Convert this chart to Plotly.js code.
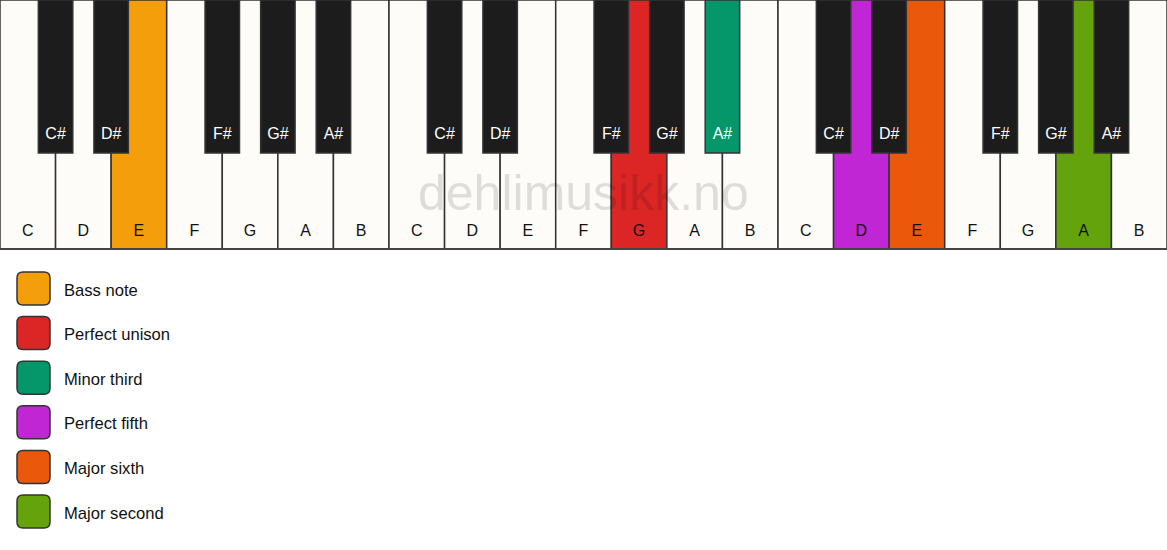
<!DOCTYPE html>
<html>
<head>
<meta charset="utf-8">
<script src="https://cdn.plot.ly/plotly-3.0.1.min.js"></script>
<style>
  html, body { margin: 0; padding: 0; background: #ffffff; }
  #chart { width: 1167px; height: 550px; }
</style>
</head>
<body>
<div id="chart"></div>
<script>
  // keyboard layout
  const octaves = 3;
  const whiteNames = ['C', 'D', 'E', 'F', 'G', 'A', 'B'];
  const blackNames = ['C#', 'D#', 'F#', 'G#', 'A#'];
  const blackAfter = [0, 1, 3, 4, 5]; // black key sits on right edge of this white key

  // highlighted notes (legend order)
  const intervalNames = ['Bass note', 'Perfect unison', 'Minor third', 'Perfect fifth', 'Major sixth', 'Major second'];
  const intervalNotes = ['E', 'G', 'A#', 'D', 'E', 'A'];
  const intervalOctave = [0, 1, 1, 2, 2, 2];
  const intervalColors = ['#F59E0B', '#DC2626', '#059669', '#C026D3', '#EA580C', '#65A30D'];

  const WHITE = '#FDFCF9';
  const BLACK = '#1C1C1C';
  const EDGE = '#333333';

  const keyW = 1167 / (octaves * 7); // px per white key
  const whiteLen = 249;
  const blackLen = 153;

  function colorFor(note, oct, base) {
    for (let i = 0; i < intervalNotes.length; i++) {
      if (intervalNotes[i] === note && intervalOctave[i] === oct) return intervalColors[i];
    }
    return base;
  }

  let wx = [], wy = [], wc = [], wt = [];
  let bx = [], by = [], bc = [], bt = [];
  for (let o = 0; o < octaves; o++) {
    for (let i = 0; i < whiteNames.length; i++) {
      wx.push(o * 7 + i + 0.5);
      wy.push(whiteLen);
      wc.push(colorFor(whiteNames[i], o, WHITE));
      wt.push(whiteNames[i]);
    }
    for (let i = 0; i < blackNames.length; i++) {
      bx.push(o * 7 + blackAfter[i] + 1);
      by.push(blackLen);
      bc.push(colorFor(blackNames[i], o, BLACK));
      bt.push(blackNames[i]);
    }
  }

  const whiteKeys = {
    type: 'bar', x: wx, y: wy, base: 0, width: 1,
    marker: { color: wc, line: { color: EDGE, width: 1.5 } },
    hoverinfo: 'skip', showlegend: false
  };
  const blackKeys = {
    type: 'bar', x: bx, y: by, base: 0, width: 0.62,
    marker: { color: bc, line: { color: EDGE, width: 1.5 } },
    hoverinfo: 'skip', showlegend: false
  };
  const whiteLabels = {
    type: 'scatter', mode: 'text', x: wx, y: wx.map(() => 232), text: wt,
    textfont: { family: 'Liberation Sans, Arial, sans-serif', size: 16, color: '#111' },
    hoverinfo: 'skip', showlegend: false, cliponaxis: false
  };
  const blackLabels = {
    type: 'scatter', mode: 'text', x: bx, y: bx.map(() => 135), text: bt,
    textfont: { family: 'Liberation Sans, Arial, sans-serif', size: 16, color: '#ffffff' },
    hoverinfo: 'skip', showlegend: false, cliponaxis: false
  };

  // legend swatches: rounded squares
  const px = v => v / keyW;
  let shapes = [];
  let annotations = [];
  const r = 6, sw = 33;
  for (let i = 0; i < intervalNames.length; i++) {
    const x0 = 17, y0 = 272 + i * 44.6, x1 = x0 + sw, y1 = y0 + sw;
    const path = 'M' + px(x0 + r) + ',' + y0 +
      ' L' + px(x1 - r) + ',' + y0 + ' Q' + px(x1) + ',' + y0 + ' ' + px(x1) + ',' + (y0 + r) +
      ' L' + px(x1) + ',' + (y1 - r) + ' Q' + px(x1) + ',' + y1 + ' ' + px(x1 - r) + ',' + y1 +
      ' L' + px(x0 + r) + ',' + y1 + ' Q' + px(x0) + ',' + y1 + ' ' + px(x0) + ',' + (y1 - r) +
      ' L' + px(x0) + ',' + (y0 + r) + ' Q' + px(x0) + ',' + y0 + ' ' + px(x0 + r) + ',' + y0 + ' Z';
    shapes.push({
      type: 'path', xref: 'x', yref: 'y', path: path,
      fillcolor: intervalColors[i], line: { color: EDGE, width: 1.5 }
    });
    annotations.push({
      xref: 'x', yref: 'y', x: px(62), y: y0 + sw / 2 + 1.5, text: intervalNames[i],
      xanchor: 'left', yanchor: 'middle', showarrow: false,
      font: { family: 'Liberation Sans, Arial, sans-serif', size: 16.6, color: '#111' }
    });
  }

  // bottom edge of the keyboard
  shapes.push({
    type: 'line', xref: 'paper', yref: 'y', x0: 0, x1: 1, y0: whiteLen, y1: whiteLen,
    line: { color: '#444', width: 2 }
  });

  // watermark
  annotations.push({
    xref: 'paper', yref: 'y', x: 0.5, y: 193, text: 'dehlimusikk.no',
    xanchor: 'center', yanchor: 'middle', showarrow: false,
    font: { family: 'Liberation Sans, Arial, sans-serif', size: 50, color: 'rgba(0,0,0,0.12)' }
  });

  const layout = {
    width: 1167, height: 550,
    margin: { l: 0, r: 0, t: 0, b: 0 },
    paper_bgcolor: '#ffffff', plot_bgcolor: '#ffffff',
    barmode: 'overlay', bargap: 0,
    xaxis: { range: [0, octaves * 7], visible: false, fixedrange: true },
    yaxis: { range: [550, 0], visible: false, fixedrange: true },
    shapes: shapes,
    annotations: annotations,
    showlegend: false
  };

  Plotly.newPlot('chart', [whiteKeys, blackKeys, whiteLabels, blackLabels], layout, { staticPlot: true });
</script>
</body>
</html>
